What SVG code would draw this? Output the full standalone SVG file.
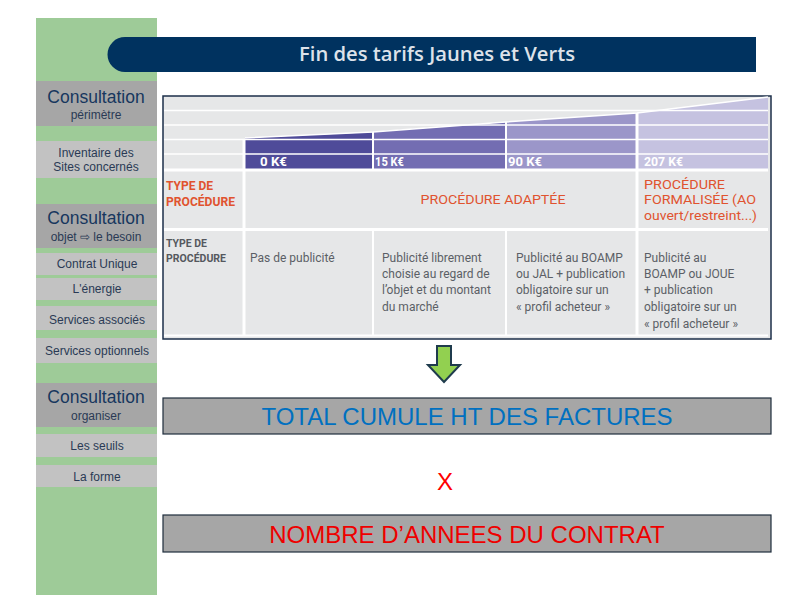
<svg xmlns="http://www.w3.org/2000/svg" width="792" height="612" viewBox="0 0 792 612">
<defs>
<style>
.side{font-family:"Liberation Sans",Arial,sans-serif;text-anchor:middle;fill:#1f3a5f}
.h{font-size:17.5px;fill:#17375e}
.s{font-size:12px;fill:#2a3a55}
.dk{fill:#a6a6a6}
.lt{fill:#c2c2c2}
.wl{stroke:#ffffff;fill:none}
.tb{font-family:Roboto,"Open Sans",sans-serif}
.k{font-family:Roboto,sans-serif;font-weight:700;font-size:13px;fill:#ffffff}
.or{fill:#e0532f}
.body{font-size:12px;fill:#5b5f66}
.big{font-family:"Liberation Sans",Arial,sans-serif;font-size:24px;text-anchor:middle}
</style>
</defs>
<rect width="792" height="612" fill="#ffffff"/>
<g id="sidebar">
<rect x="36" y="18" width="121" height="577" fill="#9ecb98"/>
</g>
<g id="title">
<path d="M125 37 H756 V72 H125 A17.5 17.5 0 0 1 125 37 Z" fill="#00325f"/>
<text x="299" y="61" font-family="'Open Sans',sans-serif" font-weight="600" font-size="19" fill="#dde2ea" textLength="276" lengthAdjust="spacingAndGlyphs">Fin des tarifs Jaunes et Verts</text>
</g>
<g id="n-consult1"><rect class="dk" x="36" y="81" width="121" height="45"/><text class="side h" x="96" y="103">Consultation</text><text class="side s" x="96" y="119">périmètre</text></g>
<g id="n-inventaire"><rect class="lt" x="36" y="141" width="121" height="37"/><text class="side s" x="96" y="157">Inventaire des</text><text class="side s" x="96" y="171">Sites concernés</text></g>
<g id="n-consult2"><rect class="dk" x="36" y="204" width="121" height="44"/><text class="side h" x="96" y="224">Consultation</text><text class="side s" x="96" y="241">objet ⇨ le besoin</text></g>
<g id="n-contrat"><rect class="lt" x="36" y="253" width="121" height="22"/><text class="side s" x="97" y="268">Contrat Unique</text></g>
<g id="n-energie"><rect class="lt" x="36" y="278" width="121" height="22"/><text class="side s" x="97" y="293">L'énergie</text></g>
<g id="n-assoc"><rect class="lt" x="36" y="306" width="121" height="24"/><text class="side s" x="97" y="324">Services associés</text></g>
<g id="n-option"><rect class="lt" x="36" y="338" width="121" height="25"/><text class="side s" x="97" y="355">Services optionnels</text></g>
<g id="n-consult3"><rect class="dk" x="36" y="383" width="121" height="44"/><text class="side h" x="96" y="403">Consultation</text><text class="side s" x="96" y="420">organiser</text></g>
<g id="n-seuils"><rect class="lt" x="36" y="434" width="121" height="23"/><text class="side s" x="97" y="450">Les seuils</text></g>
<g id="n-forme"><rect class="lt" x="36" y="465" width="121" height="22"/><text class="side s" x="97" y="481">La forme</text></g>

<g id="table">
<rect x="163" y="96" width="608" height="243" fill="#e6e7e8" stroke="#1c2f4a" stroke-width="1.5"/>
<polygon points="245,138 372,132.2 372,169 245,169" fill="#4f4b99"/>
<polygon points="374,131.8 505,122.1 505,169 374,169" fill="#736db2"/>
<polygon points="507,121.9 636,113.1 636,169 507,169" fill="#9b96c9"/>
<polygon points="638,112.8 768,97 768,169 638,169" fill="#c5c2e0"/>
<polyline class="wl" stroke-width="1.5" points="245,138 373,132 506,122 637,113 768,97"/>
<g class="wl" stroke-width="1.5">
<line x1="164" y1="110.5" x2="768" y2="110.5"/>
<line x1="164" y1="125" x2="768" y2="125"/>
<line x1="164" y1="139.5" x2="768" y2="139.5"/>
<line x1="164" y1="154" x2="768" y2="154"/>
</g>
<g class="wl" stroke-width="3">
<line x1="164" y1="170" x2="768" y2="170"/>
<line x1="164" y1="229.5" x2="768" y2="229.5"/>
<line x1="244" y1="139" x2="244" y2="336"/>
<line x1="637" y1="113" x2="637" y2="336"/>
</g>
<g class="wl" stroke-width="2">
<line x1="373" y1="132" x2="373" y2="170"/>
<line x1="506" y1="122" x2="506" y2="170"/>
<line x1="373" y1="230" x2="373" y2="336"/>
<line x1="506" y1="230" x2="506" y2="336"/>
<line x1="164" y1="335.5" x2="768" y2="335.5"/>
</g>
<text class="k" x="260" y="166" textLength="27" lengthAdjust="spacingAndGlyphs">0 K€</text>
<text class="k" x="375" y="166" textLength="29" lengthAdjust="spacingAndGlyphs">15 K€</text>
<text class="k" x="508" y="166" textLength="34" lengthAdjust="spacingAndGlyphs">90 K€</text>
<text class="k" x="644" y="166" textLength="39" lengthAdjust="spacingAndGlyphs">207 K€</text>
<g class="tb or" font-weight="700" font-size="13">
<text x="166" y="190" textLength="47" lengthAdjust="spacingAndGlyphs">TYPE DE</text>
<text x="166" y="206" textLength="69" lengthAdjust="spacingAndGlyphs">PROCÉDURE</text>
</g>
<text class="tb or" x="493" y="204" font-size="13.5" text-anchor="middle" textLength="145" lengthAdjust="spacingAndGlyphs">PROCÉDURE ADAPTÉE</text>
<g class="tb or" font-size="13.5">
<text x="644" y="189" textLength="81" lengthAdjust="spacingAndGlyphs">PROCÉDURE</text>
<text x="644" y="204" textLength="112" lengthAdjust="spacingAndGlyphs">FORMALISÉE (AO</text>
<text x="644" y="220" textLength="113" lengthAdjust="spacingAndGlyphs">ouvert/restreint...)</text>
</g>
<g class="tb" font-weight="700" font-size="10.5" fill="#55585e">
<text x="166" y="247" textLength="41" lengthAdjust="spacingAndGlyphs">TYPE DE</text>
<text x="166" y="262" textLength="60" lengthAdjust="spacingAndGlyphs">PROCÉDURE</text>
</g>
<g class="tb body">
<text x="250" y="262">Pas de publicité</text>
<text x="382" y="262">Publicité librement</text>
<text x="382" y="278">choisie au regard de</text>
<text x="382" y="294">l’objet et du montant</text>
<text x="382" y="311">du marché</text>
<text x="516" y="262">Publicité au BOAMP</text>
<text x="516" y="278">ou JAL + publication</text>
<text x="516" y="294">obligatoire sur un</text>
<text x="516" y="311">« profil acheteur »</text>
<text x="644" y="262">Publicité au</text>
<text x="644" y="278">BOAMP ou JOUE</text>
<text x="644" y="294">+ publication</text>
<text x="644" y="311">obligatoire sur un</text>
<text x="644" y="328">« profil acheteur »</text>
</g>
</g>

<g id="connectors">
<path d="M437 346 H451 V365 H460 L444 382 L428 365 H437 Z" fill="#92d050" stroke="#1f3b4d" stroke-width="2" stroke-linejoin="miter"/>
</g>

<g id="n-total">
<rect x="163" y="398" width="608" height="36" fill="#a6a6a6" stroke="#1f2d3d" stroke-width="1.2"/>
<text class="big" x="467" y="425" fill="#0070c0">TOTAL CUMULE HT DES FACTURES</text>
</g>
<g id="n-x">
<text class="big" x="445" y="490" fill="#ff0000">X</text>
</g>
<g id="n-nombre">
<rect x="163" y="515" width="608" height="37" fill="#a6a6a6" stroke="#1f2d3d" stroke-width="1.2"/>
<text class="big" x="467" y="543" fill="#ee0000">NOMBRE D’ANNEES DU CONTRAT</text>
</g>
</svg>
